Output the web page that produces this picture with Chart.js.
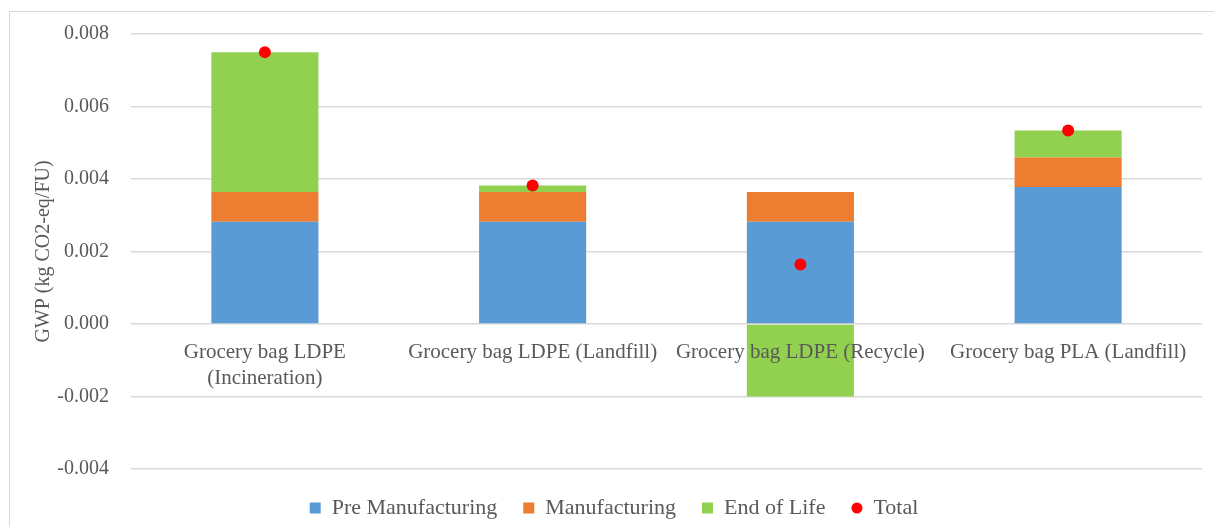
<!DOCTYPE html>
<html>
<head>
<meta charset="utf-8">
<script src="https://cdn.jsdelivr.net/npm/chart.js@4"></script>
<style>
  html, body { margin: 0; padding: 0; background: #fff; }
  #wrap { width: 1214px; height: 527px; }
</style>
</head>
<body>
<div id="wrap"><canvas id="gwpChart"></canvas></div>
<script>
const categories = [
    ['Grocery bag LDPE', '(Incineration)'],
    'Grocery bag LDPE (Landfill)',
    'Grocery bag LDPE (Recycle)',
    'Grocery bag PLA (Landfill)'
];
const preManufacturing = [0.00282, 0.00282, 0.00282, 0.00378];
const manufacturing = [0.00082, 0.00082, 0.00082, 0.00081];
const endOfLife = [0.00386, 0.00018, -0.00200, 0.00075];
const total = [0.00750, 0.00382, 0.00164, 0.00534];
const yTicks = [-0.004, -0.002, 0.000, 0.002, 0.004, 0.006, 0.008];

const TEXT = '#595959';
const GRID = '#D9D9D9';
const SERIF = "'Liberation Serif', 'DejaVu Serif', serif";

// small red dot used for the Total legend entry
function dotImage(d) {
    const c = document.createElement('canvas');
    c.width = d; c.height = d;
    const g = c.getContext('2d');
    g.fillStyle = '#FF0000';
    g.beginPath();
    g.arc(d / 2, d / 2, d / 2 - 0.5, 0, Math.PI * 2);
    g.fill();
    return c;
}

// white background + light frame around the whole chart
const framePlugin = {
    id: 'frame',
    beforeDraw(chart) {
        const ctx = chart.ctx;
        ctx.save();
        ctx.fillStyle = '#fff';
        ctx.fillRect(0, 0, chart.width, chart.height);
        ctx.strokeStyle = GRID;
        ctx.lineWidth = 1;
        ctx.strokeRect(9.5, 11.5, chart.width + 10, chart.height + 10);
        ctx.restore();
    }
};

// move the legend row a bit (down/right) without touching the plot area
const legendNudge = {
    id: 'legendNudge',
    afterLayout(chart) {
        const lg = chart.legend;
        if (!lg) return;
        lg.top += 2; lg.bottom += 2;
        lg.left += 13; lg.right += 13;
    }
};

const ctx = document.getElementById('gwpChart').getContext('2d');
new Chart(ctx, {
    type: 'bar',
    data: {
        labels: categories,
        datasets: [
            { label: 'Pre Manufacturing', data: preManufacturing, backgroundColor: '#5B9BD5', order: 1 },
            { label: 'Manufacturing', data: manufacturing, backgroundColor: '#ED7D31', order: 1 },
            { label: 'End of Life', data: endOfLife, backgroundColor: '#92D050', order: 1 },
            {
                type: 'line', label: 'Total', data: total, stack: 'total',
                showLine: false, pointRadius: 6, pointHoverRadius: 6,
                backgroundColor: '#FF0000', borderColor: '#FF0000', borderWidth: 0,
                order: 0
            }
        ]
    },
    options: {
        responsive: true,
        maintainAspectRatio: false,
        animation: false,
        layout: { padding: { top: 32, right: 12, left: 0, bottom: 0 } },
        datasets: { bar: { categoryPercentage: 1, barPercentage: 0.4 } },
        scales: {
            x: {
                stacked: true,
                position: { y: 0 },
                grid: { display: false, drawTicks: false },
                border: { display: false },
                ticks: {
                    z: 1,
                    color: TEXT, padding: 16, maxRotation: 0, autoSkip: false,
                    font: { family: SERIF, size: 21, lineHeight: 1.22 }
                }
            },
            y: {
                stacked: true,
                min: -0.004,
                max: 0.008,
                afterFit: s => { s.width = 131; },
                afterBuildTicks: s => { s.ticks = yTicks.map(v => ({ value: v })); },
                grid: { color: GRID, lineWidth: 1.5, drawTicks: false },
                border: { display: false },
                ticks: {
                    color: TEXT, padding: 22,
                    font: { family: SERIF, size: 20 },
                    callback: v => v.toFixed(3)
                },
                title: {
                    display: true, text: 'GWP (kg CO2-eq/FU)', color: TEXT,
                    font: { family: SERIF, size: 20, lineHeight: 1.2 },
                    padding: { top: 32, bottom: 0 }
                }
            }
        },
        plugins: {
            tooltip: { enabled: false },
            legend: {
                position: 'bottom',
                labels: {
                    color: TEXT,
                    font: { family: SERIF, size: 22 },
                    usePointStyle: true,
                    boxWidth: 11, boxHeight: 11,
                    padding: 26,
                    sort: (a, b) => a.datasetIndex - b.datasetIndex,
                    generateLabels: chart => {
                        const items = Chart.defaults.plugins.legend.labels.generateLabels(chart);
                        items.forEach(it => {
                            it.pointStyle = it.text === 'Total' ? dotImage(12) : 'rect';
                            it.lineWidth = 0;
                            it.strokeStyle = 'rgba(0,0,0,0)';
                        });
                        return items;
                    }
                }
            }
        }
    },
    plugins: [framePlugin, legendNudge]
});
</script>
</body>
</html>
